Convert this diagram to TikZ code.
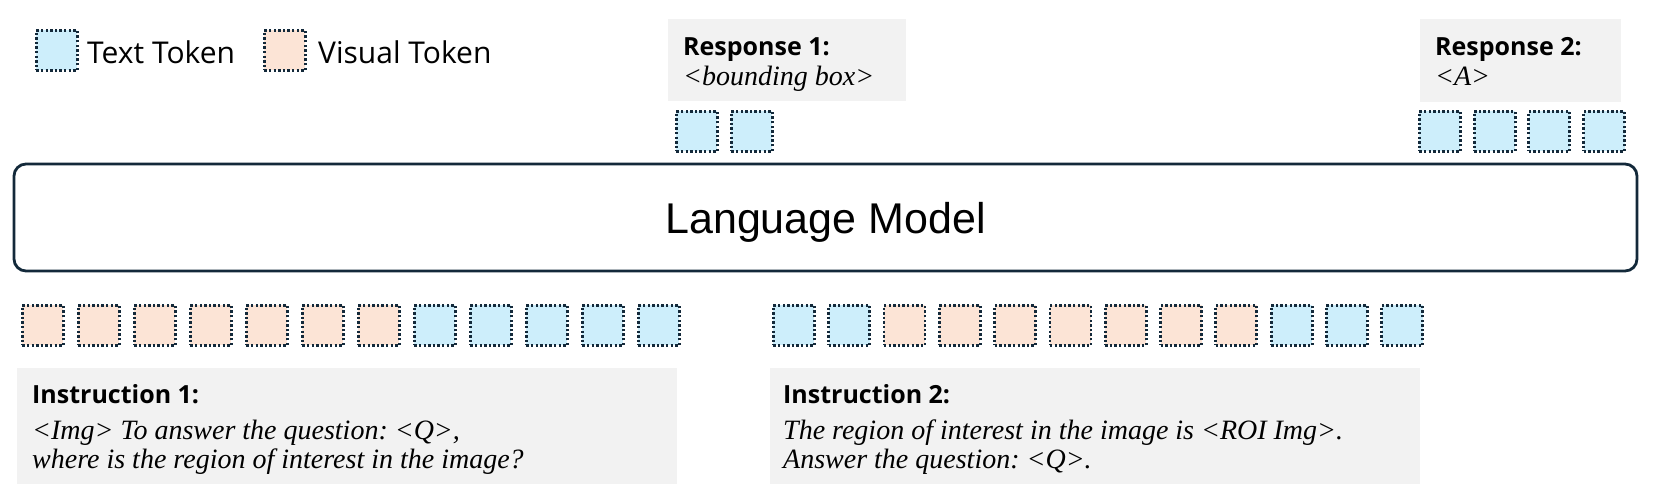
\documentclass[tikz,border=0pt]{standalone}
\usepackage{fontspec}
\setmainfont{Liberation Serif}
\newfontfamily\yhfont{Open Sans}
\newfontfamily\arialfont{Liberation Sans}
\newfontfamily\timesit{Liberation Serif}[UprightFont=*-Italic]
\definecolor{tokblue}{HTML}{CDEEFB}
\definecolor{tokpeach}{HTML}{FCE4D6}
\definecolor{graybg}{HTML}{F2F2F2}
\definecolor{navy}{HTML}{13293A}
\frenchspacing
\begin{document}
\begin{tikzpicture}[x=1pt,y=-1pt,
  tok/.style={draw=navy, line width=2.8pt, dash pattern=on 2.4pt off 2.2pt,
    minimum width=41pt, minimum height=40pt, inner sep=0pt, anchor=north west},
  ttok/.style={tok, fill=tokblue},
  vtok/.style={tok, fill=tokpeach},
  graybox/.style={fill=graybg, draw=none},
  legtext/.style={anchor=base west, inner sep=0pt, font=\yhfont\fontsize{30}{36}\selectfont},
  titletext/.style={anchor=base west, inner sep=0pt, font=\yhfont\bfseries\fontsize{25}{30}\selectfont},
  ittext/.style={anchor=base west, inner sep=0pt, font=\timesit\fontsize{28}{33}\selectfont},
  lmbox/.style={draw=navy, line width=2.8pt, rounded corners=12pt, fill=white}
]
\useasboundingbox (0,0) rectangle (1660,499);

% legend
\node[ttok] (legt) at (35,29) {};
\node[legtext] (legtl) at (87,63) {Text Token};
\node[vtok] (legv) at (263,29) {};
\node[legtext] (legvl) at (318,63) {Visual Token};

% response 1
\fill[graybox] (668,19) rectangle (906,101);
\node[titletext] (r1t) at (683,55) {Response 1:};
\node[ittext] (r1x) at (683,85) {<bounding box>};
\node[ttok] (a1) at (675,110) {};
\node[ttok] (a2) at (730,110) {};

% response 2
\fill[graybox] (1420,19) rectangle (1621,102);
\node[titletext] (r2t) at (1435,55) {Response 2:};
\node[ittext] (r2x) at (1435,85) {<A>};
\foreach \i in {0,...,3} {
  \node[ttok] (b\i) at ({1418+54.7*\i},110) {};
}

% language model
\draw[lmbox] (14,164) rectangle (1637,271);
\node[anchor=base, inner sep=0pt, font=\arialfont\fontsize{43}{50}\selectfont] (lm) at (825.5,233) {Language Model};

% row 1 tokens
\foreach \i in {0,...,6} {
  \node[vtok] (p\i) at ({21+56*\i},304) {};
}
\foreach \i in {7,...,11} {
  \node[ttok] (p\i) at ({21+56*\i},304) {};
}

% row 2 tokens
\foreach \i in {0,1,9,10,11} {
  \node[ttok] (q\i) at ({772+55.3*\i},304) {};
}
\foreach \i in {2,...,8} {
  \node[vtok] (q\i) at ({772+55.3*\i},304) {};
}

% instruction 1
\fill[graybox] (17,368) rectangle (677,484);
\node[titletext] (i1t) at (32,403) {Instruction 1:};
\node[ittext] (i1a) at (32,439) {<Img> To answer the question: <Q>,};
\node[ittext] (i1b) at (32,468) {where is the region of interest in the image?};

% instruction 2
\fill[graybox] (770,368) rectangle (1420,484);
\node[titletext] (i2t) at (783,403) {Instruction 2:};
\node[ittext] (i2a) at (783,439) {The region of interest in the image is <ROI Img>.};
\node[ittext] (i2b) at (783,468) {Answer the question: <Q>.};
\end{tikzpicture}
\end{document}
